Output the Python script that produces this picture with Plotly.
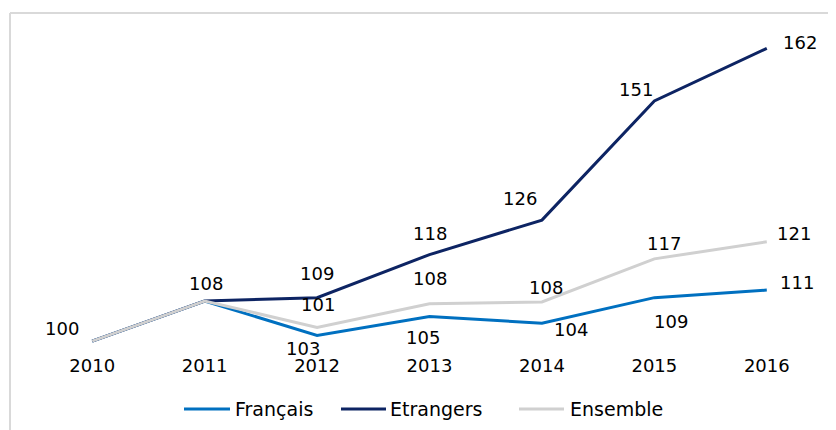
import plotly.graph_objects as go

years = ["2010", "2011", "2012", "2013", "2014", "2015", "2016"]
francais = [100, 108.5, 101.2, 105.2, 103.8, 109.2, 110.8]
etrangers = [100, 108.5, 109.2, 118.3, 125.6, 150.8, 161.9]
ensemble = [100, 108.5, 102.9, 107.9, 108.3, 117.4, 121.0]

francais_labels = ["", "", "103", "105", "104", "109", "111"]
etrangers_labels = ["100", "108", "109", "118", "126", "151", "162"]
ensemble_labels = ["", "", "101", "108", "108", "117", "121"]

names = ["Français", "Etrangers", "Ensemble"]
colors = ["#0070C0", "#0D2463", "#D0D0D0"]

W, H = 836, 430
SHIFT = 7  # page offset
ML, MT = 35 - SHIFT, 28 - SHIFT
PW, PH = 787, 324
MR = W - ML - PW
MB = H - MT - PH


def px2x(px):
    return (px - SHIFT - ML) / PW


def py2y(py):
    return (MT + PH - (py - SHIFT)) / PH


FONT = "DejaVu Sans"

fig = go.Figure()
for name, vals, col in zip(names, [francais, etrangers, ensemble], colors):
    fig.add_trace(go.Scatter(x=years, y=vals, mode="lines", name=name,
                             line=dict(color=col, width=3), showlegend=False))

# label offsets (pixels) per series/point
off_fr = [None, None, (-14, -13), (-7, -21), (29, -6), (17, -24), (30, 8)]
off_et = [(-30, 13), (1, 17), (0, 24), (0, 21), (-22, 22), (-18, 11), (33, 6)]
off_en = [None, None, (1, 23), (0, 25), (4, 14), (10, 15), (27, 8)]

annotations = []
for vals, labs, offs in [(francais, francais_labels, off_fr),
                         (etrangers, etrangers_labels, off_et),
                         (ensemble, ensemble_labels, off_en)]:
    for i, (v, lab, off) in enumerate(zip(vals, labs, offs)):
        if not lab:
            continue
        annotations.append(dict(x=i, y=v, xref="x", yref="y", text=lab,
                                showarrow=False, xshift=off[0], yshift=off[1],
                                font=dict(family=FONT, size=18, color="#000000")))

# custom legend
leg_y = py2y(408)
leg_items = [(183, 229, 232), (340, 385, 387), (518, 563, 567)]
shapes = []
for (x0, x1, tx), name, col in zip(leg_items, names, colors):
    shapes.append(dict(type="line", xref="paper", yref="paper",
                       x0=px2x(x0), x1=px2x(x1), y0=leg_y, y1=leg_y,
                       line=dict(color=col, width=3)))
    annotations.append(dict(x=px2x(tx), y=leg_y, xref="paper", yref="paper",
                            text=name, showarrow=False, xanchor="left",
                            yanchor="middle",
                            font=dict(family=FONT, size=19, color="#000000")))

# outer frame (left and top edges)
shapes.append(dict(type="line", xref="paper", yref="paper",
                   x0=px2x(9), x1=px2x(9), y0=py2y(12), y1=py2y(445),
                   line=dict(color="#D9D9D9", width=2)))
shapes.append(dict(type="line", xref="paper", yref="paper",
                   x0=px2x(9), x1=px2x(850), y0=py2y(12), y1=py2y(12),
                   line=dict(color="#D9D9D9", width=2)))

fig.update_layout(
    width=W, height=H,
    margin=dict(l=ML, r=MR, t=MT, b=MB),
    paper_bgcolor="white", plot_bgcolor="white",
    showlegend=False,
    annotations=annotations,
    shapes=shapes,
    xaxis=dict(type="category", range=[-0.5, 6.5], autorange=False,
               showgrid=False, zeroline=False, showline=False,
               ticks="", tickfont=dict(family=FONT, size=18, color="#000000")),
    yaxis=dict(range=[97.5, 166], autorange=False, showgrid=False,
               zeroline=False, showline=False, showticklabels=False, ticks=""),
)

fig.write_html("out.html")
